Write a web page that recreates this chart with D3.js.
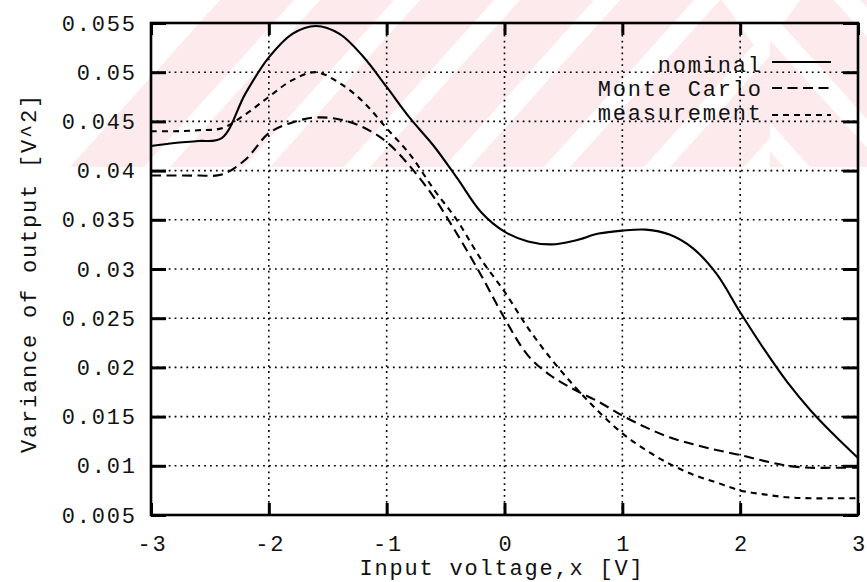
<!DOCTYPE html>
<html>
<head>
<meta charset="utf-8">
<script src="https://cdn.jsdelivr.net/npm/d3@7"></script>
<style>
  html, body { margin: 0; padding: 0; background: #fff; }
  svg { display: block; }
  text { font-family: "Liberation Mono", "DejaVu Sans Mono", monospace; fill: #111; }
</style>
</head>
<body>
<svg id="chart" width="867" height="582"></svg>
<script>
// ---- data ----
const xValues = [-3, -2.8, -2.6, -2.4, -2.2, -2, -1.8, -1.6, -1.4, -1.2, -1, -0.8, -0.6, -0.4, -0.2,
                 0, 0.2, 0.4, 0.6, 0.8, 1, 1.2, 1.4, 1.6, 1.8, 2, 2.2, 2.4, 2.6, 2.8, 3];
const nominal = [0.0425, 0.0428, 0.0430, 0.0433, 0.0478, 0.0515, 0.0539, 0.0547, 0.0539, 0.0516, 0.0485,
                 0.0453, 0.0425, 0.0392, 0.0358, 0.0338, 0.0328, 0.0325, 0.0329, 0.0336, 0.0339,
                 0.0340, 0.0335, 0.0321, 0.0295, 0.0256, 0.0219, 0.0185, 0.0156, 0.0131, 0.0108];
const monteCarlo = [0.0395, 0.0395, 0.0395, 0.0396, 0.0411, 0.0438, 0.0449, 0.0454, 0.0452, 0.0444, 0.0429,
                    0.0404, 0.0373, 0.0335, 0.0294, 0.0250, 0.0212, 0.0191, 0.0177, 0.0165, 0.0151,
                    0.0139, 0.0129, 0.0122, 0.0116, 0.0111, 0.0105, 0.0100, 0.0098, 0.0098, 0.0098];
const measurement = [0.0440, 0.0440, 0.0441, 0.0443, 0.0457, 0.0475, 0.0492, 0.0500, 0.0489, 0.0470, 0.0443,
                     0.0416, 0.0381, 0.0349, 0.0310, 0.0277, 0.0240, 0.0208, 0.0180, 0.0155, 0.0133,
                     0.0116, 0.0102, 0.0091, 0.0083, 0.0075, 0.0071, 0.0068, 0.0067, 0.0067, 0.0067];
const seriesNames = ["nominal", "Monte Carlo", "measurement"];
const xTicks = [-3, -2, -1, 0, 1, 2, 3];
const xTickLabels = ["-3", "-2", "-1", "0", "1", "2", "3"];
const yTicks = [0.005, 0.01, 0.015, 0.02, 0.025, 0.03, 0.035, 0.04, 0.045, 0.05, 0.055];
const yTickLabels = ["0.005", "0.01", "0.015", "0.02", "0.025", "0.03", "0.035", "0.04", "0.045", "0.05", "0.055"];
const xTitle = "Input voltage,x [V]";
const yTitle = "Variance of output [V^2]";

// ---- layout ----
const L = 151, R = 858, T = 23, B = 515;
const svg = d3.select("#chart");
const x = d3.scaleLinear().domain([-3, 3]).range([L, R]);
const y = d3.scaleLinear().domain([0.005, 0.055]).range([B, T]);

// ---- watermark (faint pink striped logo) ----
const wm = svg.append("g");
const defs = svg.append("defs");
defs.append("clipPath").attr("id", "wmL").append("path")
  .attr("d", "M195,0 L770,0 L770,167 L48,167 Z");
defs.append("clipPath").attr("id", "wmR").append("path")
  .attr("d", "M770,0 L867,0 L867,167 L770,167 Z");
const pink = "#fdeaed";
const gl = wm.append("g").attr("clip-path", "url(#wmL)");
for (let x0 = 120; x0 < 960; x0 += 100) {
  gl.append("path").attr("fill", pink)
    .attr("d", `M${x0},0 L${x0 + 74},0 L${x0 + 74 - 150},167 L${x0 - 150},167 Z`);
}
const gr = wm.append("g").attr("clip-path", "url(#wmR)");
for (let x0 = 560; x0 < 900; x0 += 100) {
  gr.append("path").attr("fill", pink)
    .attr("d", `M${x0},0 L${x0 + 74},0 L${x0 + 74 + 150},167 L${x0 + 150},167 Z`);
}
wm.append("path").attr("fill", "#fff").attr("d", "M722,0 L800,0 L761,55 Z");

// ---- grid ----
const grid = svg.append("g").attr("stroke", "#000").attr("stroke-width", 1.6)
  .attr("stroke-dasharray", "1.8,4.1").attr("fill", "none");
grid.selectAll(".gx").data(xTicks.slice(1, -1)).join("line")
  .attr("x1", d => x(d)).attr("x2", d => x(d)).attr("y1", T).attr("y2", B);
grid.selectAll(".gy").data(yTicks.slice(1, -1)).join("line")
  .attr("y1", d => y(d)).attr("y2", d => y(d)).attr("x1", L).attr("x2", R);

// ---- axes (labels + inward ticks) ----
const fontSize = 22, ls = 1.8;
const yAxis = d3.axisLeft(y).tickValues(yTicks).tickFormat((d, i) => yTickLabels[i])
  .tickSizeInner(-15).tickSizeOuter(0).tickPadding(16 - ls);
const gY = svg.append("g").attr("transform", `translate(${L},0)`).call(yAxis);
const xAxis = d3.axisBottom(x).tickValues(xTicks).tickFormat((d, i) => xTickLabels[i])
  .tickSizeInner(-12).tickSizeOuter(0).tickPadding(20);
const gX = svg.append("g").attr("transform", `translate(0,${B})`).call(xAxis);
const gYr = svg.append("g").attr("transform", `translate(${R},0)`)
  .call(d3.axisRight(y).tickValues(yTicks).tickSizeInner(-15).tickSizeOuter(0).tickFormat(""));
const gXt = svg.append("g").attr("transform", `translate(0,${T})`)
  .call(d3.axisTop(x).tickValues(xTicks).tickSizeInner(-12).tickSizeOuter(0).tickFormat(""));
[gY, gX, gYr, gXt].forEach(g => {
  g.select(".domain").remove();
  g.selectAll(".tick line").attr("stroke", "#000").attr("stroke-width", 3);
  g.selectAll("text").attr("font-family", "Liberation Mono, monospace")
    .attr("font-size", fontSize).attr("letter-spacing", ls).attr("fill", "#111");
});
gX.selectAll("text").attr("dx", ls / 2);

// ---- frame ----
svg.append("rect").attr("x", L).attr("y", T).attr("width", R - L).attr("height", B - T)
  .attr("fill", "none").attr("stroke", "#000").attr("stroke-width", 2.6);

// ---- lines ----
const styles = [
  { data: nominal, dash: null },
  { data: monteCarlo, dash: "10,5.5" },
  { data: measurement, dash: "6,5" }
];
const line = d3.line().x((d, i) => x(xValues[i])).y(d => y(d)).curve(d3.curveCatmullRom.alpha(0.5));
svg.append("g").selectAll("path").data(styles).join("path")
  .attr("d", s => line(s.data))
  .attr("fill", "none").attr("stroke", "#000").attr("stroke-width", 2.1)
  .attr("stroke-dasharray", s => s.dash);

// ---- legend ----
const legY = [72, 96, 120];
const legLineY = [62, 88, 115];
const leg = svg.append("g");
leg.selectAll("text").data(seriesNames).join("text")
  .attr("x", 761 + ls).attr("y", (d, i) => legY[i]).attr("text-anchor", "end")
  .attr("font-size", fontSize).attr("letter-spacing", ls).text(d => d);
leg.selectAll("line").data(styles).join("line")
  .attr("x1", 772).attr("x2", 831)
  .attr("y1", (d, i) => legLineY[i]).attr("y2", (d, i) => legLineY[i])
  .attr("stroke", "#000").attr("stroke-width", 2)
  .attr("stroke-dasharray", s => s.dash);

// ---- titles ----
svg.append("text").attr("x", 502).attr("y", 575).attr("text-anchor", "middle")
  .attr("font-size", fontSize).attr("letter-spacing", ls).text(xTitle);
svg.append("text").attr("transform", "translate(36,273) rotate(-90)").attr("text-anchor", "middle")
  .attr("font-size", fontSize).attr("letter-spacing", ls).text(yTitle);
</script>
</body>
</html>
